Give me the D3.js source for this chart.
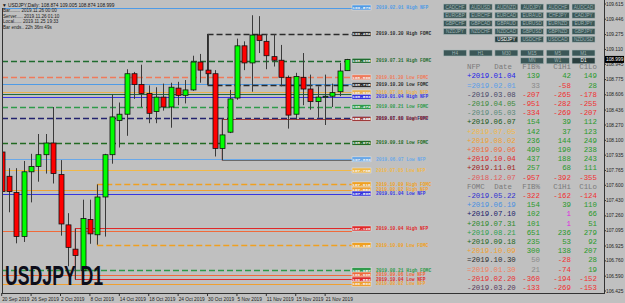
<!DOCTYPE html>
<html><head><meta charset="utf-8">
<script src="https://cdn.jsdelivr.net/npm/d3@7"></script>
<style>
html,body{margin:0;padding:0;background:#c0c0c0;overflow:hidden}
svg{display:block}
</style></head><body>
<svg id="c" width="625" height="303"></svg>
<script>
// ---------- data ----------
const dates = ["2019-09-20","2019-09-23","2019-09-24","2019-09-25","2019-09-26","2019-09-27","2019-09-30","2019-10-01","2019-10-02","2019-10-03","2019-10-04","2019-10-07","2019-10-08","2019-10-09","2019-10-10","2019-10-11","2019-10-14","2019-10-15","2019-10-16","2019-10-17","2019-10-18","2019-10-21","2019-10-22","2019-10-23","2019-10-24","2019-10-25","2019-10-28","2019-10-29","2019-10-30","2019-10-31","2019-11-01","2019-11-04","2019-11-05","2019-11-06","2019-11-07","2019-11-08","2019-11-11","2019-11-12","2019-11-13","2019-11-14","2019-11-15","2019-11-18","2019-11-19","2019-11-20","2019-11-21","2019-11-22","2019-11-25","2019-11-26"];
const openP  = [107.97,107.70,107.52,107.03,107.75,107.81,107.94,108.07,107.72,107.16,106.89,106.65,107.22,107.05,107.47,107.94,108.32,108.39,108.84,108.72,108.62,108.42,108.58,108.47,108.68,108.60,108.66,108.97,108.88,108.84,108.01,108.19,108.57,109.15,108.96,109.27,109.20,109.03,108.99,108.80,108.39,108.80,108.67,108.53,108.58,108.59,108.64,108.874];
const highP  = [108.06,107.79,107.79,107.87,107.95,108.17,108.17,108.47,107.88,107.29,107.12,107.44,107.44,107.61,107.95,108.61,108.52,108.89,108.86,108.94,108.71,108.69,108.73,108.74,108.75,108.77,109.04,109.06,109.282,108.88,108.34,108.66,109.23,109.20,109.49,109.48,109.28,109.28,109.16,108.82,108.85,109.07,108.83,108.70,108.83,108.73,108.96,109.005];
const lowP   = [107.52,107.30,106.955,106.97,107.41,107.64,107.73,107.62,107.04,106.70,106.55,106.62,106.95,106.94,107.03,107.84,108.02,108.15,108.56,108.47,108.29,108.29,108.43,108.24,108.49,108.51,108.65,108.74,108.715,107.92,107.88,108.18,108.55,108.88,108.64,109.07,108.89,108.92,108.70,108.23,108.33,108.49,108.44,108.35,108.27,108.47,108.59,108.874];
const closeP = [107.53,107.53,107.03,107.75,107.81,107.94,108.07,107.73,107.17,106.91,106.82,107.23,107.06,107.47,107.94,108.36,108.39,108.84,108.72,108.62,108.40,108.58,108.47,108.69,108.60,108.66,108.97,108.88,108.84,108.01,108.16,108.56,109.15,108.96,109.27,109.21,109.04,108.99,108.80,108.38,108.81,108.67,108.53,108.58,108.59,108.63,108.87,108.999];

const priceTicks = [109.615,109.446,109.275,109.110,108.945,108.775,108.606,108.436,108.270,108.100,107.935,107.765,107.600,107.430,107.260,107.095,106.925,106.760,106.590,106.425];
const timeTickIdx = [0,4,8,12,16,20,24,28,32,36,40,44];
const timeTickLabels = ["20 Sep 2019","26 Sep 2019","2 Oct 2019","8 Oct 2019","14 Oct 2019","18 Oct 2019","24 Oct 2019","30 Oct 2019","5 Nov 2019","11 Nov 2019","15 Nov 2019","21 Nov 2019"];

// event levels (labels of levels hidden under others in the reference are not drawn)
const levelNames  = ["2019.02.01 High NFP","2019.10.30 High FOMC","2019.07.31 High FOMC","2019.01.30 Low FOMC","2019.02.01 Low NFP","2019.10.30 Low FOMC","2019.07.05 High NFP","2019.06.07 High NFP","2019.01.04 High NFP","2019.08.21 Low FOMC","2019.07.10 Low FOMC","2019.11.01 High NFP","2019.09.18 Low FOMC","2019.06.07 Low NFP","2019.11.01 Low NFP","2019.07.05 Low NFP","2019.10.09 High FOMC","2019.08.02 High NFP","2019.01.04 Low NFP","2019.10.04 High NFP","2019.09.06 High NFP","2019.10.09 Low FOMC","2019.08.21 High FOMC","2019.09.06 Low NFP","2019.10.04 Low NFP","2019.08.02 Low NFP"];
const levelPrices = [109.576,109.282,108.985,108.800,108.722,108.715,108.632,108.612,108.583,108.472,108.344,108.338,108.071,107.889,107.876,107.765,107.610,107.553,107.508,107.120,107.094,106.935,106.657,106.608,106.553,106.503];
const levelColors = ["#4f9be6","#2b2b2b","#1f6b2f","#f07a5a","#4f9be6","#2b2b2b","#e8b050","#1f6b3f","#3636e0","#2f9a4a","#23236e","#9e3a3a","#226a22","#6aa8e8","#6a6a6a","#f0b848","#f0a020","#f0a030","#3636e0","#e02828","#f06a3a","#f0a020","#2f9a4a","#f06a3a","#e02828","#f0a030"];
const levelDashed = [0,1,1,1,0,1,0,0,0,1,1,0,1,0,0,0,1,0,0,0,0,1,1,0,0,0];
const levelStart  = [-1,28,-1,-1,-1,28,-1,-1,-1,-1,-1,30,-1,-1,30,-1,13,-1,-1,10,-1,13,-1,-1,10,-1];
const levelShown  = [1,1,1,1,0,1,1,0,1,1,1,1,1,1,0,1,1,1,1,1,0,1,1,1,1,1];

// table
const nfpDates = ["+2019.01.04","=2019.02.01","-2019.03.08","-2019.04.05","-2019.05.03","+2019.06.07","+2019.07.05","+2019.08.02","+2019.09.06","+2019.10.04","+2019.11.01","-2018.12.07"];
const nfpFib   = [139,33,-207,-951,-334,154,142,236,490,437,257,-957];
const nfpC1Hi  = [42,-58,-265,-282,-269,39,37,144,190,188,68,-392];
const nfpC1Lo  = [149,28,-178,-255,-207,112,123,249,238,243,111,-355];
const nfpColors = ["#2424e8","#5a9ee8","#4a4a6a","#3a8a3a","#5a8a7a","#1a5a1a","#f0b848","#f0a030","#f06a3a","#e02828","#a01818","#e05a5a"];
const fomcDates = ["-2019.05.22","+2019.06.19","+2019.07.10","+2019.07.31","+2019.08.21","+2019.09.18","+2019.10.09","=2019.10.30","=2019.01.30","-2019.02.20","-2019.03.20"];
const fomcFib   = [-322,154,102,101,651,235,300,50,21,-360,-133];
const fomcC1Hi  = [-162,39,1,1,236,53,138,-28,-74,-194,-269];
const fomcC1Lo  = [-124,110,66,51,279,92,207,28,19,-152,-153];
const fomcColors = ["#3030d0","#4a90e0","#20206a","#2a8a2a","#30a050","#1f6a1f","#f0a030","#303030","#f08060","#e83030","#5a3a5a"];

const pairs = [["CADCHF","AUDUSD","AUDNZD","AUDJPY","AUDCHF","AUDCAD"],["EURGBP","EURCHF","EURCAD","EURAUD","CHFJPY","CADJPY"],["GBPCHF","GBPCAD","GBPAUD","EURUSD","EURNZD","EURJPY"],["NZDJPY","NZDCHF","NZDCAD","GBPUSD","GBPNZD","GBPJPY"],["","","USDJPY","USDCHF","USDCAD","NZDUSD"]];
const frames = [["H4","H1","M30","M15","M5","M1"],["","","","MN","W1","D1"]];
const infoLines = ["Bar........ 2019.11.26 00:00","Server..... 2019.11.26 01:10","Local...... 2019.11.25 19:33","Bar ends.. 22h 36m 49s"];
const titleText = "\u25BC USDJPY,Daily: 108.874 109.005 108.874 108.999";

// ---------- drawing ----------
(function(){
const svg = d3.select("#c");
const W=625,H=303, pL=2, pR=604, pT=2, pB=293;
svg.append("rect").attr("width",W).attr("height",H).attr("fill","#c0c0c0");

const x = d3.scaleLinear().domain([0,47]).range([1.7,347.2]);
const y = d3.scaleLinear().domain([106.425,109.615]).range([291,4]);

svg.append("defs").append("clipPath").attr("id","clip").append("rect")
  .attr("x",pL).attr("y",pT).attr("width",pR-pL).attr("height",pB-pT);
const plot = svg.append("g").attr("clip-path","url(#clip)");

const levels = levelNames.map((n,i)=>({name:n,p:levelPrices[i],c:levelColors[i],d:levelDashed[i],s:levelStart[i],show:levelShown[i]}));
const boxX = 352;
plot.selectAll("line.lvl").data(levels).join("line").attr("class","lvl")
  .attr("x1",d=>d.s<0?pL:x(d.s)).attr("x2",boxX)
  .attr("y1",d=>Math.round(y(d.p))+0.5).attr("y2",d=>Math.round(y(d.p))+0.5)
  .attr("stroke",d=>d.c).attr("stroke-width",d=>d.d?1.3:1.2)
  .attr("stroke-dasharray",d=>d.d?"6,3":null);
const connectors = [[1,5],[11,14],[16,21],[19,24]];
plot.selectAll("line.con").data(connectors).join("line").attr("class","con")
  .attr("x1",d=>x(levels[d[0]].s)).attr("x2",d=>x(levels[d[0]].s))
  .attr("y1",d=>y(levels[d[0]].p)).attr("y2",d=>y(levels[d[1]].p))
  .attr("stroke",d=>levels[d[0]].c).attr("stroke-width",1);

// candles
const bars = dates.map((d,i)=>({i,o:openP[i],h:highP[i],l:lowP[i],c:closeP[i]}));
const cg = plot.append("g");
cg.selectAll("line.wick").data(bars).join("line").attr("class","wick")
  .attr("x1",d=>Math.round(x(d.i))+0.5).attr("x2",d=>Math.round(x(d.i))+0.5)
  .attr("y1",d=>y(d.h)).attr("y2",d=>y(d.l)).attr("stroke","#3a3a3a").attr("stroke-width",1);
cg.selectAll("rect.body").data(bars).join("rect").attr("class","body")
  .attr("x",d=>Math.round(x(d.i))-2).attr("width",5)
  .attr("y",d=>y(Math.max(d.o,d.c)))
  .attr("height",d=>Math.max(1,Math.abs(y(d.o)-y(d.c))))
  .attr("fill",d=>d.c>=d.o?"#00ff00":"#ff0000").attr("stroke","#111").attr("stroke-width",0.8);

// price label boxes
const shown = levels.filter(d=>d.show);
const lb = plot.append("g");
lb.selectAll("rect").data(shown).join("rect")
  .attr("x",boxX).attr("y",d=>y(d.p)-2.5).attr("width",19).attr("height",5)
  .attr("fill",d=>d.c).attr("stroke","#e8e8e8").attr("stroke-width",0.5);
lb.selectAll("text.bv").data(shown).join("text").attr("class","bv")
  .attr("x",boxX+9.5).attr("y",d=>y(d.p)+1.5).attr("text-anchor","middle")
  .attr("font-family","Liberation Mono, monospace").attr("font-size",4.4).attr("font-weight","bold")
  .attr("fill","#f2f2f2").text(d=>d.p.toFixed(3));
lb.selectAll("text.bn").data(shown).join("text").attr("class","bn")
  .attr("x",376).attr("y",d=>y(d.p)+1.5)
  .attr("font-family","Liberation Mono, monospace").attr("font-size",4.6).attr("font-weight","bold")
  .attr("fill",d=>d.c).text(d=>d.name);

// frame
svg.append("line").attr("x1",pL+0.5).attr("x2",pL+0.5).attr("y1",8).attr("y2",pB).attr("stroke","#333");
svg.append("line").attr("x1",pL).attr("x2",pR).attr("y1",pB+0.5).attr("y2",pB+0.5).attr("stroke","#333");
svg.append("line").attr("x1",pR+0.5).attr("x2",pR+0.5).attr("y1",0).attr("y2",pB+1).attr("stroke","#333");

// price axis
const pa = svg.append("g");
pa.selectAll("line").data(priceTicks).join("line")
  .attr("x1",pR).attr("x2",pR+2).attr("y1",d=>y(d)).attr("y2",d=>y(d)).attr("stroke","#333");
pa.selectAll("text").data(priceTicks).join("text")
  .attr("x",606).attr("y",d=>y(d)+1.6).attr("font-family","Liberation Sans, Arial, sans-serif")
  .attr("font-size",4.8).attr("fill","#222").text(d=>d.toFixed(3));
const last = closeP[closeP.length-1];
svg.append("rect").attr("x",pR+1).attr("y",y(last)-3.5).attr("width",19).attr("height",7).attr("fill","#000");
svg.append("text").attr("x",606).attr("y",y(last)+1.7).attr("font-family","Liberation Sans, Arial, sans-serif")
  .attr("font-size",4.8).attr("fill","#fff").text(last.toFixed(3));

// time axis
const ta = svg.append("g");
ta.selectAll("line").data(timeTickIdx).join("line")
  .attr("x1",d=>x(d)).attr("x2",d=>x(d)).attr("y1",pB).attr("y2",pB+3).attr("stroke","#333");
ta.selectAll("text").data(timeTickIdx).join("text")
  .attr("x",d=>x(d)+0.5).attr("y",300.5).attr("font-family","Liberation Sans, Arial, sans-serif")
  .attr("font-size",4.8).attr("fill","#222").text((d,i)=>timeTickLabels[i]);

// title + info
svg.append("text").attr("x",2).attr("y",7.2).attr("font-family","Liberation Sans, Arial, sans-serif")
  .attr("font-size",4.8).attr("fill","#111").text(titleText);
svg.append("g").selectAll("text").data(infoLines).join("text")
  .attr("x",3).attr("y",(d,i)=>12.3+i*5.4).attr("font-family","Liberation Sans, Arial, sans-serif")
  .attr("font-size",4.6).attr("fill","#222").text(d=>d);

// big symbol text
svg.append("text").attr("x",5).attr("y",285).attr("font-family","Liberation Sans, Arial, sans-serif")
  .attr("font-weight","bold").attr("font-size",28).attr("fill","#0d0d1a")
  .attr("textLength",98).attr("lengthAdjust","spacingAndGlyphs").text("USDJPY D1");

// buttons
const bx0=443.5, bw=23, bpitch=25.7, bh=6;
const bRowsY = [4,12.2,20.4,28.4,36.2];
const btn = svg.append("g");
function button(t,c,yy,sel){
  btn.append("rect").attr("x",bx0+c*bpitch).attr("y",yy).attr("width",bw).attr("height",bh)
    .attr("fill",sel?"#2a3e3e":"#3b5757").attr("stroke","#a9b8b8").attr("stroke-width",0.6);
  btn.append("text").attr("x",bx0+c*bpitch+bw/2).attr("y",yy+4.6).attr("text-anchor","middle")
    .attr("font-family","Liberation Sans, Arial, sans-serif").attr("font-size",4.6)
    .attr("fill",sel?"#ffffff":"#9fb3b3").text(t);
}
pairs.forEach((row,r)=>row.forEach((t,c)=>{ if(t) button(t,c,bRowsY[r],t==="USDJPY"); }));
const fRowsY=[50,57.8];
frames.forEach((row,r)=>row.forEach((t,c)=>{ if(t) button(t,c,fRowsY[r],t==="D1"); }));

// table
const tg = svg.append("g").attr("font-family","Liberation Mono, Courier New, monospace").attr("font-size",7.4);
const rowH=9.2, row0=69.2;
const colDate=467, colFib=540, colHi=571, colLo=597;
function valColor(v){ if(v===1) return "#e020e0"; if(v===33||v===50||v===21) return "#8a8a8a"; return v<0?"#f03030":"#2a9a2a"; }
function header(r,name){
  const yy=row0+r*rowH;
  tg.append("text").attr("x",colDate).attr("y",yy).attr("fill","#7a7a7a").text(name);
  tg.append("text").attr("x",512).attr("y",yy).attr("text-anchor","end").attr("fill","#7a7a7a").text("Date");
  tg.append("text").attr("x",colFib).attr("y",yy).attr("text-anchor","end").attr("fill","#7a7a7a").text("FIB%");
  tg.append("text").attr("x",colHi).attr("y",yy).attr("text-anchor","end").attr("fill","#7a7a7a").text("C1Hi");
  tg.append("text").attr("x",colLo).attr("y",yy).attr("text-anchor","end").attr("fill","#7a7a7a").text("C1Lo");
}
function rows(r0,ds,f,h,l,cols){
  ds.forEach((d,i)=>{
    const yy=row0+(r0+i)*rowH;
    tg.append("text").attr("x",colDate).attr("y",yy).attr("fill",cols[i]).text(d);
    tg.append("text").attr("x",colFib).attr("y",yy).attr("text-anchor","end").attr("fill",valColor(f[i])).text(f[i]);
    tg.append("text").attr("x",colHi).attr("y",yy).attr("text-anchor","end").attr("fill",valColor(h[i])).text(h[i]);
    tg.append("text").attr("x",colLo).attr("y",yy).attr("text-anchor","end").attr("fill",valColor(l[i])).text(l[i]);
  });
}
header(0,"NFP");
rows(1,nfpDates,nfpFib,nfpC1Hi,nfpC1Lo,nfpColors);
header(13,"FOMC");
rows(14,fomcDates,fomcFib,fomcC1Hi,fomcC1Lo,fomcColors);
})();
</script>
</body></html>
